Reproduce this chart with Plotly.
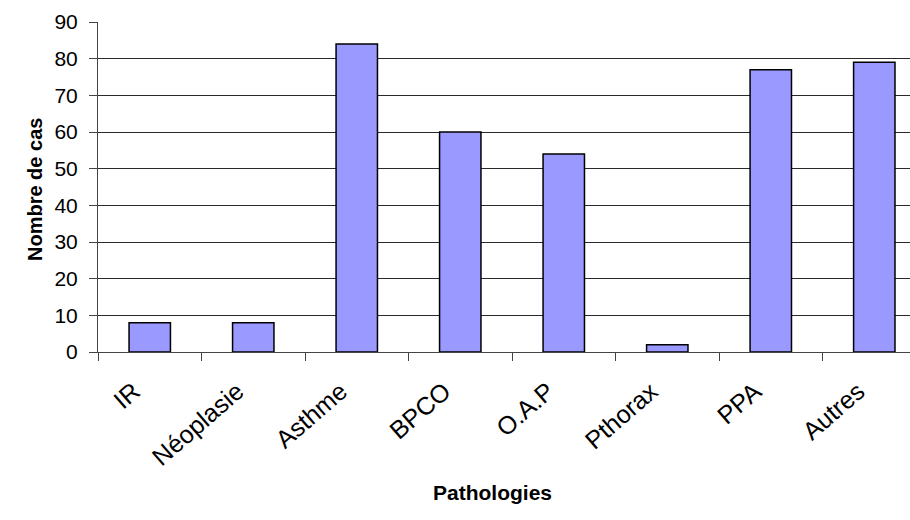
import plotly.graph_objects as go

# Number of cases per pathology
pathologies = ["IR", "Néoplasie", "Asthme", "BPCO", "O.A.P", "Pthorax", "PPA", "Autres"]
cases = [8, 8, 84, 60, 54, 2, 77, 79]
y_ticks = [0, 10, 20, 30, 40, 50, 60, 70, 80, 90]

FONT = "Arial, Liberation Sans, sans-serif"

fig = go.Figure(
    go.Bar(
        x=pathologies,
        y=cases,
        width=0.4,
        marker=dict(color="#9999FF", line=dict(color="#000000", width=1.5)),
    )
)

fig.update_layout(
    width=910,
    height=520,
    margin=dict(l=98, r=0, t=22, b=168),
    paper_bgcolor="white",
    plot_bgcolor="white",
    font=dict(family=FONT, size=18, color="black"),
    showlegend=False,
    bargap=0.6,
)

fig.update_xaxes(
    type="category",
    range=[-0.5, 7.345],
    tickangle=-41,
    ticks="outside",
    tickson="boundaries",
    ticklen=8,
    tickcolor="#444",
    ticklabelstandoff=14,
    ticklabelshift=-16,
    showline=True,
    linecolor="#444",
    linewidth=1,
    showgrid=False,
    tickfont=dict(family=FONT, size=25),
)

fig.update_yaxes(
    range=[0, 90],
    tickvals=y_ticks,
    ticks="outside",
    ticklen=8,
    tickcolor="#444",
    ticklabelstandoff=7,
    showline=True,
    linecolor="#444",
    linewidth=1,
    showgrid=True,
    gridcolor="#2a2a2a",
    gridwidth=1.4,
    zeroline=False,
    tickfont=dict(family=FONT, size=21),
)

# Axis titles
fig.add_annotation(
    text="<b>Nombre de cas</b>",
    xref="paper", yref="paper",
    x=-(98 - 22) / (910 - 98), y=(352 - 190) / 330,
    textangle=-90,
    showarrow=False,
    font=dict(family=FONT, size=20),
)
fig.add_annotation(
    text="<b>Pathologies</b>",
    xref="paper", yref="paper",
    x=(492 - 98) / (910 - 98), y=-(506 - 352) / 330,
    showarrow=False,
    font=dict(family=FONT, size=21),
)

fig.write_html("out.html")
